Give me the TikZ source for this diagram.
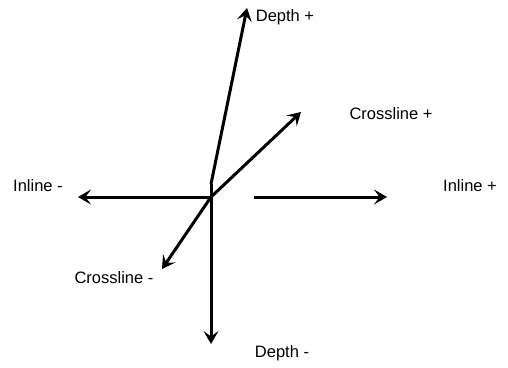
\documentclass[tikz,border=0pt]{standalone}
\usepackage{fontspec}
\setmainfont{Liberation Sans}
\usetikzlibrary{arrows.meta}
\tikzset{
  axis/.style={line width=3pt, -{Stealth[length=13pt,width=15pt,inset=5.5pt]}},
  lbl/.style={font=\fontsize{16.5}{18}\selectfont, inner sep=0pt}
}
\begin{document}
\begin{tikzpicture}[x=1pt,y=-1pt]
\useasboundingbox (0,0) rectangle (508,367);
\coordinate (o) at (211,197);
\coordinate (kink) at (211,184);
\coordinate (gap) at (254,197);
\coordinate (dp) at (247,8);
\coordinate (dm) at (211,344);
\coordinate (cp) at (301,112);
\coordinate (cm) at (162,269);
\coordinate (ip) at (387,197);
\coordinate (im) at (78,197);
\draw[axis] (kink) -- (dp);
\draw[axis] (kink) -- (dm);
\draw[axis] (o) -- (cp);
\draw[axis] (o) -- (cm);
\draw[axis] (o) -- (im);
\draw[axis] (gap) -- (ip);
\node[lbl] (depthplus) at (285,17) {Depth +};
\node[lbl] (depthminus) at (282,353) {Depth -};
\node[lbl] (crossplus) at (391,114) {Crossline +};
\node[lbl] (crossminus) at (114,278) {Crossline -};
\node[lbl] (inplus) at (470,186) {Inline +};
\node[lbl] (inminus) at (38,186) {Inline -};
\end{tikzpicture}
\end{document}
